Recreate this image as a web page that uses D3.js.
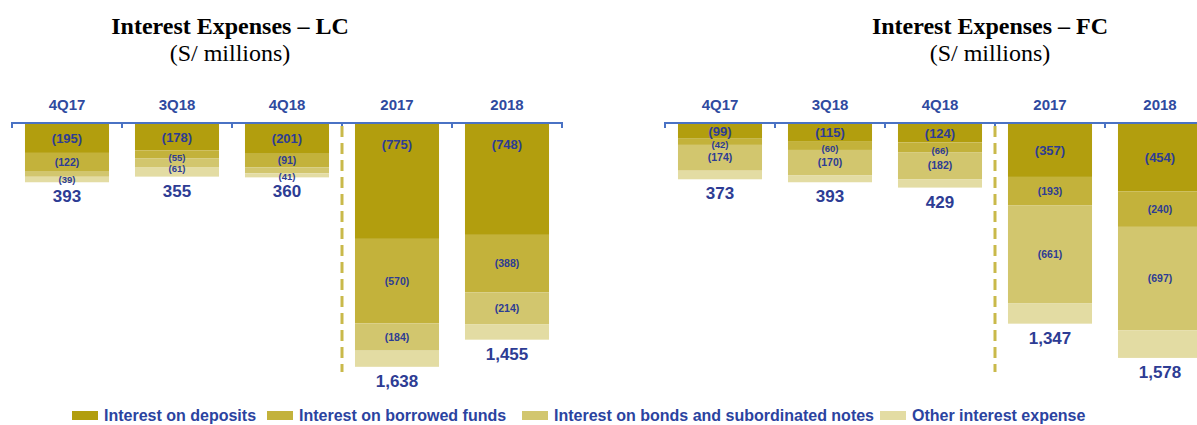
<!DOCTYPE html>
<html>
<head>
<meta charset="utf-8">
<script src="https://cdn.jsdelivr.net/npm/d3@7"></script>
<style>
  body { margin: 0; background: #fff; }
  svg { display: block; }
</style>
</head>
<body>
<svg width="1197" height="425"></svg>
<script>
// categories and series
var categories = ["4Q17", "3Q18", "4Q18", "2017", "2018"];
var seriesNames = ["Interest on deposits", "Interest on borrowed funds",
  "Interest on bonds and subordinated notes", "Other interest expense"];
var seriesKeys = ["deposits", "borrowed", "bonds", "other"];

// local currency (S/ millions)
var lcDeposits = [195, 178, 201, 775, 748];
var lcBorrowed = [122, 55, 91, 570, 388];
var lcBonds = [39, 61, 41, 184, 214];
var lcOther = [37, 61, 27, 109, 105];
var lcTotal = [393, 355, 360, 1638, 1455];

// foreign currency (S/ millions)
var fcDeposits = [99, 115, 124, 357, 454];
var fcBorrowed = [42, 60, 66, 193, 240];
var fcBonds = [174, 170, 182, 661, 697];
var fcOther = [58, 48, 57, 136, 187];
var fcTotal = [373, 393, 429, 1347, 1578];

var colors = ["#b29e0e", "#c3b23b", "#d2c66e", "#e3dca3"];
var blue = "#2d3c94";

var svg = d3.select("svg");

// shared value scale (bars hang down from the axis)
var y = d3.scaleLinear().domain([0, 1700]).range([124, 124 + 252]);

function buildRows(dep, bor, bon, oth, tot) {
  return categories.map(function(c, i) {
    return { cat: c, deposits: dep[i], borrowed: bor[i], bonds: bon[i], other: oth[i], total: tot[i] };
  });
}

var panels = [
  { title: "Interest Expenses \u2013 LC", cx: 230, x0: 12,
    rows: buildRows(lcDeposits, lcBorrowed, lcBonds, lcOther, lcTotal) },
  { title: "Interest Expenses \u2013 FC", cx: 990, x0: 665,
    rows: buildRows(fcDeposits, fcBorrowed, fcBonds, fcOther, fcTotal) }
];

var stack = d3.stack().keys(seriesKeys);

panels.forEach(function(p) {
  var g = svg.append("g");

  // titles
  g.append("text")
    .attr("x", p.cx).attr("y", 34)
    .attr("text-anchor", "middle")
    .style("font-family", "'Liberation Serif', 'Times New Roman', serif")
    .style("font-weight", "bold")
    .style("font-size", "24px")
    .text(p.title);
  g.append("text")
    .attr("x", p.cx).attr("y", 61)
    .attr("text-anchor", "middle")
    .style("font-family", "'Liberation Serif', 'Times New Roman', serif")
    .style("font-size", "24px")
    .text("(S/ millions)");

  var x = d3.scaleBand()
    .domain(categories)
    .range([p.x0, p.x0 + 550])
    .paddingInner(0.236)
    .paddingOuter(0.118);
  var step = x.step();

  var layers = stack(p.rows);

  // bars
  g.selectAll("g.layer")
    .data(layers)
    .enter().append("g")
    .attr("class", "layer")
    .attr("fill", function(d, i) { return colors[i]; })
    .selectAll("rect")
    .data(function(d) { return d; })
    .enter().append("rect")
    .attr("x", function(d) { return x(d.data.cat); })
    .attr("y", function(d) { return y(d[0]); })
    .attr("width", x.bandwidth())
    .attr("height", function(d) { return y(d[1]) - y(d[0]); });

  // segment labels (not for "other"); thin segments get a smaller label pushed down a bit
  layers.slice(0, 3).forEach(function(layer, li) {
    g.selectAll(null)
      .data(layer)
      .enter().append("text")
      .attr("x", function(d) { return x(d.data.cat) + x.bandwidth() / 2; })
      .attr("y", function(d) {
        var top = y(d[0]), bot = y(d[1]), h = bot - top;
        if (h > 108) return top + 20;
        return (top + bot) / 2 + (h < 10 ? (li === 2 ? 6 : 3) : 0);
      })
      .attr("dy", "0.35em")
      .attr("text-anchor", "middle")
      .style("font-family", "'Liberation Sans', Arial, sans-serif")
      .style("font-weight", "bold")
      .style("font-size", function(d) {
        if (li === 0) return "13px";
        return (y(d[1]) - y(d[0]) < 10) ? "9.5px" : "10.5px";
      })
      .attr("fill", blue)
      .text(function(d) { return "(" + (d[1] - d[0]) + ")"; });
  });

  // totals under bars
  g.selectAll(null)
    .data(p.rows)
    .enter().append("text")
    .attr("x", function(d) { return x(d.cat) + x.bandwidth() / 2; })
    .attr("y", function(d) { return y(d.total) + 20; })
    .attr("text-anchor", "middle")
    .style("font-family", "'Liberation Sans', Arial, sans-serif")
    .style("font-weight", "bold")
    .style("font-size", "17px")
    .attr("fill", blue)
    .text(function(d) { return d3.format(",")(d.total); });

  // category labels above the axis
  g.selectAll(null)
    .data(categories)
    .enter().append("text")
    .attr("x", function(d) { return x(d) + x.bandwidth() / 2; })
    .attr("y", 110)
    .attr("text-anchor", "middle")
    .style("font-family", "'Liberation Sans', Arial, sans-serif")
    .style("font-weight", "bold")
    .style("font-size", "15px")
    .attr("fill", "#2f4aa0")
    .text(function(d) { return d; });

  // axis line with ticks at band boundaries
  g.append("line")
    .attr("x1", p.x0).attr("x2", p.x0 + 550)
    .attr("y1", 123).attr("y2", 123)
    .attr("stroke", "#4a72c4").attr("stroke-width", 2);
  g.selectAll(null)
    .data(d3.range(categories.length + 1))
    .enter().append("line")
    .attr("x1", function(i) { return p.x0 + i * step; })
    .attr("x2", function(i) { return p.x0 + i * step; })
    .attr("y1", 122).attr("y2", 128)
    .attr("stroke", "#4a72c4").attr("stroke-width", 2);

  // dashed separator between quarters and years
  g.append("line")
    .attr("x1", p.x0 + 3 * step).attr("x2", p.x0 + 3 * step)
    .attr("y1", 126).attr("y2", 372)
    .attr("stroke", "#c9b94a").attr("stroke-width", 3)
    .attr("stroke-dasharray", "11,6");
});

// legend
var legendX = [72, 267, 522, 880];
var legend = svg.append("g");
seriesNames.forEach(function(name, i) {
  legend.append("rect")
    .attr("x", legendX[i]).attr("y", 411)
    .attr("width", 26).attr("height", 9)
    .attr("fill", colors[i]);
  legend.append("text")
    .attr("x", legendX[i] + 32).attr("y", 421)
    .style("font-family", "'Liberation Sans', Arial, sans-serif")
    .style("font-weight", "bold")
    .style("font-size", "16px")
    .attr("fill", "#2b43a0")
    .text(name);
});
</script>
</body>
</html>
